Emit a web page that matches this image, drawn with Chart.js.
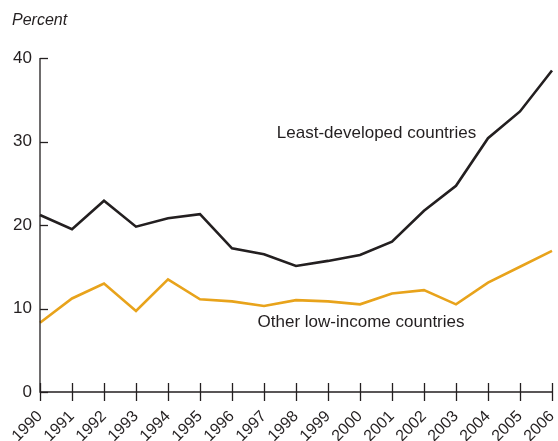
<!DOCTYPE html>
<html><head><meta charset="utf-8">
<script src="https://cdn.jsdelivr.net/npm/chart.js@4/dist/chart.umd.min.js"></script>
<style>html,body{margin:0;padding:0;background:#fff}#wrap{width:558px;height:441px}</style>
</head><body><div id="wrap"><canvas id="c" width="558" height="441"></canvas></div>
<script>
const years = ['1990','1991','1992','1993','1994','1995','1996','1997','1998','1999','2000','2001','2002','2003','2004','2005','2006'];
const leastDeveloped = [21.2,19.5,22.9,19.8,20.8,21.3,17.2,16.5,15.1,15.7,16.4,18.0,21.7,24.7,30.4,33.6,38.5];
const otherLowIncome = [8.3,11.2,13.0,9.7,13.5,11.1,10.85,10.3,11.0,10.85,10.5,11.8,12.2,10.5,13.1,15.0,16.9];
const yTicks = [0,10,20,30,40];
const seriesLabels = ['Least-developed countries','Other low-income countries'];
const axisTitle = 'Percent';

const FONT = '"Liberation Sans", Arial, Helvetica, sans-serif';
const INK = '#231f20';

const decor = {
  id:'decor',
  afterDraw(chart){
    const ctx = chart.ctx, x = chart.scales.x, y = chart.scales.y;
    ctx.save();
    ctx.strokeStyle = INK; ctx.lineWidth = 1.3;
    ctx.beginPath();
    ctx.moveTo(x.left, y.getPixelForValue(40)); ctx.lineTo(x.left, y.getPixelForValue(0));
    ctx.lineTo(x.right, y.getPixelForValue(0));
    ctx.stroke();
    yTicks.forEach(v=>{
      const py = Math.round(y.getPixelForValue(v))+0.5;
      ctx.beginPath(); ctx.moveTo(x.left, py); ctx.lineTo(x.left+8, py); ctx.stroke();
    });
    const by = y.getPixelForValue(0);
    years.forEach((yr,i)=>{
      const px = Math.round(x.getPixelForValue(i))+0.5;
      ctx.beginPath(); ctx.moveTo(px, by-9); ctx.lineTo(px, by+9); ctx.stroke();
    });
    ctx.fillStyle = INK;
    ctx.font = 'italic 16px ' + FONT;
    ctx.textAlign='left'; ctx.textBaseline='middle';
    ctx.fillText(axisTitle, 12, 21);
    ctx.font = '17px ' + FONT;
    ctx.fillText(seriesLabels[0], x.getPixelForValue(7.4), y.getPixelForValue(31.0));
    ctx.fillText(seriesLabels[1], x.getPixelForValue(6.8), y.getPixelForValue(8.3));
    ctx.restore();
  }
};

new Chart(document.getElementById('c'), {
  type:'line',
  data:{
    labels: years,
    datasets:[
      {data: leastDeveloped, borderColor: INK, borderWidth: 2.6, pointRadius:0, tension:0, fill:false},
      {data: otherLowIncome, borderColor: '#E8A31B', borderWidth: 2.6, pointRadius:0, tension:0, fill:false}
    ]
  },
  options:{
    responsive:false, animation:false,
    layout:{padding:{top:58, right:6, left:0, bottom:0}},
    plugins:{legend:{display:false}, tooltip:{enabled:false}},
    scales:{
      x:{
        type:'category', offset:false,
        grid:{display:false, drawTicks:false}, border:{display:false},
        ticks:{autoSkip:false, maxRotation:45, minRotation:45, padding:15, color:INK, font:{family:FONT, size:16}},
        afterFit(s){ s.height = 49; s.paddingLeft = 0; s.paddingRight = 0; }
      },
      y:{
        min:0, max:40,
        grid:{display:false, drawTicks:false}, border:{display:false},
        afterBuildTicks(s){ s.ticks = yTicks.map(v=>({value:v})); },
        ticks:{padding:8, color:INK, font:{family:FONT, size:17}},
        afterFit(s){ s.width = 40; s.paddingTop = 0; s.paddingBottom = 0; }
      }
    }
  },
  plugins:[decor]
});
</script>
</body></html>
